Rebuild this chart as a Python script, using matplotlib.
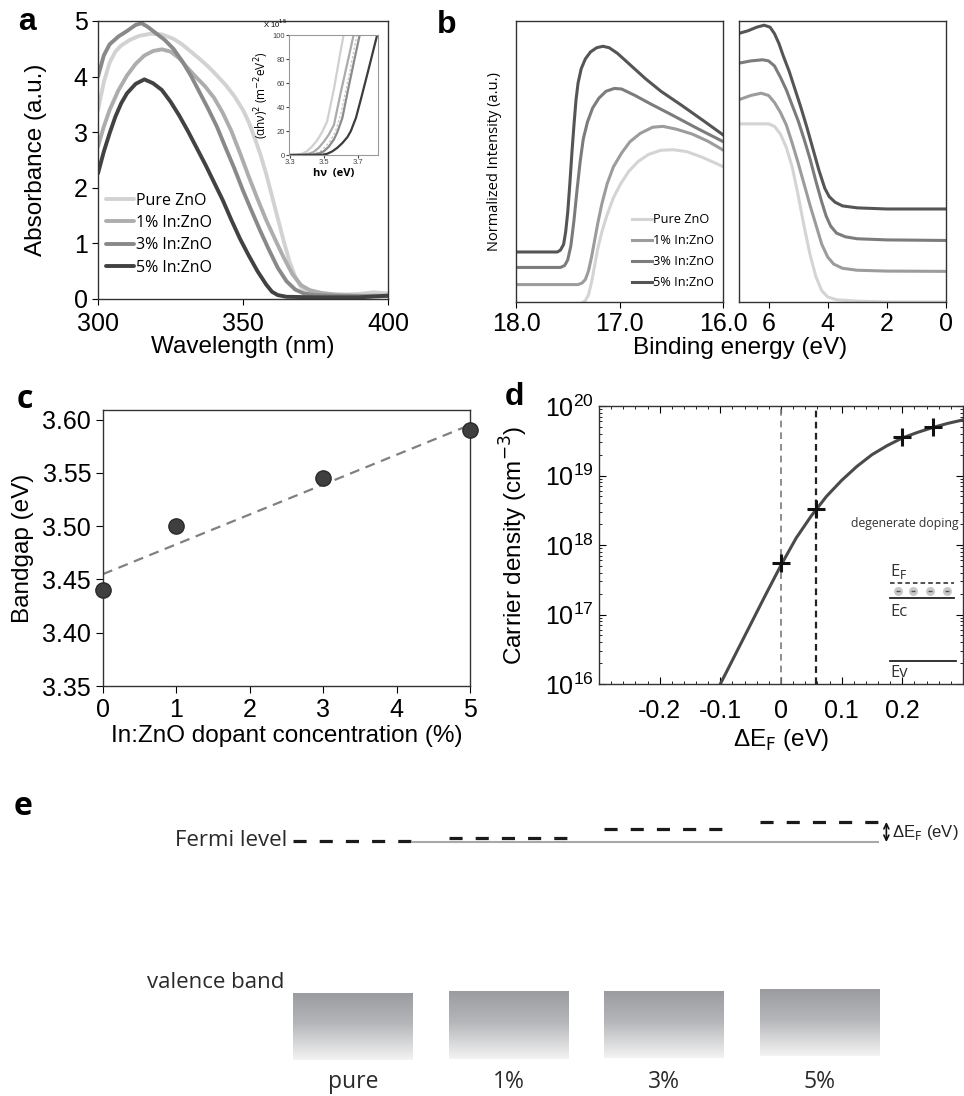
import numpy as np
import matplotlib.pyplot as plt
from matplotlib.colors import LinearSegmentedColormap
from matplotlib.ticker import AutoMinorLocator

plt.rcParams['font.family'] = ['Liberation Sans', 'DejaVu Sans']
plt.rcParams['axes.unicode_minus'] = False
plt.rcParams['axes.linewidth'] = 1.0
plt.rcParams['axes.edgecolor'] = '#333333'

SEG = ['Open Sans', 'DejaVu Sans']

# ---------------- data ----------------
samples = ['Pure ZnO', '1% In:ZnO', '3% In:ZnO', '5% In:ZnO']
colors_a = ['#d2d2d2', '#adadad', '#898989', '#424242']
colors_b = ['#d4d4d4', '#9c9c9c', '#7c7c7c', '#555555']

# (a) absorbance spectra
wl_pure = [300, 302, 304, 306, 308, 311, 314, 318, 322, 326, 329, 332, 335, 338, 341, 344, 347, 350,
           352, 354, 356, 358, 360, 362, 364, 366, 368, 370, 372, 375, 380, 385, 390, 395, 400]
ab_pure = [3.4, 3.9, 4.25, 4.45, 4.56, 4.66, 4.73, 4.77, 4.76, 4.68, 4.58, 4.45, 4.32, 4.18, 4.02, 3.85,
           3.65, 3.40, 3.18, 2.9, 2.6, 2.25, 1.85, 1.45, 1.05, 0.68, 0.4, 0.22, 0.14, 0.1, 0.08, 0.08,
           0.09, 0.12, 0.1]
wl_1 = [300, 302, 304, 307, 310, 313, 316, 319, 322, 325, 328, 331, 334, 337, 340, 343, 346, 349, 352,
        355, 358, 361, 364, 367, 370, 373, 377, 382, 390, 400]
ab_1 = [2.74, 3.1, 3.4, 3.75, 4.02, 4.23, 4.38, 4.46, 4.49, 4.45, 4.33, 4.15, 3.98, 3.82, 3.62, 3.35,
        3.02, 2.62, 2.2, 1.8, 1.42, 1.08, 0.75, 0.45, 0.25, 0.16, 0.11, 0.08, 0.06, 0.06]
wl_3 = [300, 302, 304, 307, 310, 313, 315, 317, 320, 323, 326, 329, 332, 335, 338, 341, 344, 347, 350,
        353, 356, 359, 362, 365, 368, 371, 375, 385, 400]
ab_3 = [4.0, 4.38, 4.58, 4.72, 4.82, 4.93, 4.96, 4.9, 4.78, 4.66, 4.5, 4.28, 4.02, 3.72, 3.42, 3.1,
        2.72, 2.35, 1.95, 1.58, 1.22, 0.88, 0.56, 0.32, 0.17, 0.1, 0.07, 0.05, 0.05]
wl_5 = [300, 302, 304, 306, 308, 310, 313, 316, 319, 322, 325, 328, 331, 334, 337, 340, 343, 346, 349,
        352, 355, 358, 360, 362, 365, 375, 390, 400]
ab_5 = [2.26, 2.65, 2.98, 3.28, 3.52, 3.7, 3.87, 3.95, 3.88, 3.76, 3.55, 3.3, 3.02, 2.72, 2.42, 2.1,
        1.78, 1.42, 1.08, 0.78, 0.5, 0.26, 0.13, 0.07, 0.04, 0.03, 0.03, 0.06]

# (a) inset: Tauc plot
hv_pure = [3.30, 3.34, 3.37, 3.40, 3.43, 3.46, 3.49, 3.52, 3.56, 3.60, 3.617]
tauc_pure = [0, 0.2, 1, 3, 7, 12, 19, 28, 55, 87, 100]
hv_1 = [3.30, 3.38, 3.41, 3.44, 3.47, 3.50, 3.53, 3.56, 3.60, 3.64, 3.676]
tauc_1 = [0, 0.2, 1, 2.5, 6, 11, 17, 25, 52, 77, 100]
hv_fit = [3.30, 3.42, 3.45, 3.48, 3.51, 3.54, 3.57, 3.60, 3.64, 3.68, 3.696]
tauc_fit = [0, 0.2, 1.5, 3, 7, 12, 20, 34, 60, 89, 100]
hv_3 = [3.30, 3.44, 3.47, 3.50, 3.53, 3.56, 3.58, 3.61, 3.64, 3.68, 3.712]
tauc_3 = [0, 0.2, 1.2, 3, 7, 13, 19, 31, 52, 79, 100]
hv_5 = [3.30, 3.49, 3.52, 3.55, 3.58, 3.61, 3.64, 3.66, 3.69, 3.72, 3.76, 3.815]
tauc_5 = [0, 0.2, 1, 3, 6, 10, 15, 20, 31, 47, 69, 100]

# (b) UPS, secondary electron cutoff (left)
be_hi_pure = [18.0, 17.37, 17.33, 17.30, 17.27, 17.24, 17.21, 17.17, 17.12, 17.06, 16.99, 16.91, 16.82,
              16.72, 16.6, 16.48, 16.35, 16.2, 16.0]
in_hi_pure = [-0.01, -0.005, 0.005, 0.025, 0.07, 0.13, 0.19, 0.25, 0.31, 0.37, 0.42, 0.465, 0.5,
              0.525, 0.54, 0.542, 0.535, 0.515, 0.482]
be_hi_1 = [18.0, 17.40, 17.36, 17.33, 17.30, 17.27, 17.24, 17.21, 17.17, 17.12, 17.06, 16.98, 16.90,
           16.80, 16.68, 16.58, 16.45, 16.3, 16.15, 16.0]
in_hi_1 = [0.062, 0.062, 0.068, 0.08, 0.11, 0.16, 0.22, 0.28, 0.35, 0.42, 0.48, 0.53, 0.57, 0.6,
           0.622, 0.625, 0.615, 0.598, 0.573, 0.541]
be_hi_3 = [18.0, 17.57, 17.53, 17.50, 17.47, 17.44, 17.41, 17.38, 17.35, 17.31, 17.26, 17.20, 17.13,
           17.05, 16.98, 16.85, 16.7, 16.5, 16.25, 16.0]
in_hi_3 = [0.123, 0.123, 0.13, 0.15, 0.2, 0.29, 0.4, 0.5, 0.58, 0.64, 0.69, 0.725, 0.75, 0.76, 0.758,
           0.735, 0.705, 0.667, 0.618, 0.571]
be_hi_5 = [18.0, 17.60, 17.57, 17.54, 17.52, 17.50, 17.48, 17.46, 17.44, 17.42, 17.40, 17.37, 17.33,
           17.28, 17.22, 17.16, 17.10, 17.02, 16.9, 16.75, 16.6, 16.4, 16.2, 16.0]
in_hi_5 = [0.178, 0.178, 0.185, 0.205, 0.25, 0.32, 0.42, 0.53, 0.63, 0.72, 0.78, 0.83, 0.865, 0.89,
           0.905, 0.91, 0.905, 0.885, 0.845, 0.795, 0.75, 0.7, 0.648, 0.595]

# (b) UPS, valence band edge (right)
be_lo_pure = [7.0, 6.0, 5.8, 5.6, 5.4, 5.2, 5.0, 4.8, 4.6, 4.4, 4.2, 4.0, 3.7, 3.0, 2.0, 0.0]
in_lo_pure = [0.634, 0.634, 0.625, 0.598, 0.55, 0.48, 0.38, 0.27, 0.17, 0.09, 0.04, 0.018, 0.008,
              0.003, 0.0, 0.0]
be_lo_1 = [7.0, 6.6, 6.25, 6.0, 5.8, 5.6, 5.4, 5.2, 5.0, 4.8, 4.6, 4.4, 4.2, 4.0, 3.8, 3.5, 3.0, 2.0, 0.0]
in_lo_1 = [0.72, 0.735, 0.743, 0.735, 0.71, 0.675, 0.63, 0.565, 0.495, 0.42, 0.345, 0.275, 0.205,
           0.16, 0.135, 0.12, 0.113, 0.11, 0.109]
be_lo_3 = [7.0, 6.6, 6.2, 6.0, 5.8, 5.6, 5.4, 5.2, 5.0, 4.8, 4.6, 4.4, 4.2, 4.05, 3.9, 3.7, 3.4, 3.0,
           2.0, 0.0]
in_lo_3 = [0.85, 0.858, 0.862, 0.858, 0.84, 0.8, 0.755, 0.7, 0.645, 0.58, 0.51, 0.43, 0.355, 0.305,
           0.27, 0.245, 0.232, 0.225, 0.221, 0.219]
be_lo_5 = [7.0, 6.7, 6.4, 6.15, 5.95, 5.8, 5.65, 5.5, 5.3, 5.1, 4.9, 4.7, 4.5, 4.3, 4.1, 3.95, 3.75,
           3.5, 3.0, 2.0, 0.0]
in_lo_5 = [0.956, 0.965, 0.978, 0.985, 0.978, 0.955, 0.92, 0.875, 0.82, 0.755, 0.69, 0.62, 0.545,
           0.47, 0.405, 0.375, 0.355, 0.342, 0.335, 0.331, 0.331]

# (c) bandgap
dopant = [0, 1, 3, 5]
bandgap = [3.44, 3.50, 3.545, 3.59]
fit_x = [0, 5]
fit_y = [3.455, 3.595]

# (d) carrier density
def_x = [-0.1, -0.075, -0.05, -0.025, 0.0, 0.025, 0.05, 0.075, 0.1, 0.125, 0.15,
         0.175, 0.2, 0.225, 0.25, 0.275, 0.3]
def_logn = [16.0, 16.43, 16.86, 17.29, 17.71, 18.10, 18.42, 18.70, 18.93, 19.13, 19.30,
            19.43, 19.54, 19.62, 19.69, 19.75, 19.80]
cross_x = [0.0, 0.058, 0.2, 0.25]
cross_logn = [17.74, 18.52, 19.55, 19.70]

# (e) band diagram (schematic energy units)
e_labels = ['pure', '1%', '3%', '5%']
e_pos = [0, 1, 2, 3]
fermi = [0.0, 0.03, 0.12, 0.19]
vb_top = [-1.52, -1.51, -1.50, -1.48]
vb_depth = 0.67
half_w = 0.385

# ---------------- figure ----------------
W, H = 964, 1096
fig = plt.figure(figsize=(W / 100, H / 100), dpi=100)


def box(x0, y0, x1, y1):
    return [x0 / W, 1 - y1 / H, (x1 - x0) / W, (y1 - y0) / H]


TICK = 18
LAB = 17.5

# ---- (a)
ax = fig.add_axes(box(98, 21, 388, 299))
for wl, ab, c, lab in zip([wl_pure, wl_1, wl_3, wl_5], [ab_pure, ab_1, ab_3, ab_5], colors_a, samples):
    ax.plot(wl, ab, color=c, lw=2.8, label=lab, solid_capstyle='round', solid_joinstyle='round')
ax.set_xlim(300, 400)
ax.set_ylim(0, 5)
ax.set_xticks([300, 350, 400])
ax.set_yticks([0, 1, 2, 3, 4, 5])
ax.tick_params(direction='out', length=4, labelsize=TICK)
ax.tick_params(axis='x', pad=5.5)
ax.set_xlabel('Wavelength (nm)', fontsize=LAB, labelpad=0)
ax.set_ylabel('Absorbance (a.u.)', fontsize=LAB, labelpad=19)
ax.legend(loc='upper left', bbox_to_anchor=(0.028, 0.383), frameon=False, borderpad=0,
          borderaxespad=0, handlelength=1.75, handletextpad=0.1, labelspacing=0.4,
          prop={'family': SEG, 'size': 11.5})

ins = fig.add_axes(box(289, 35, 378, 155))
ins.plot(hv_pure, tauc_pure, color='#d0d0d0', lw=1.6)
ins.plot(hv_1, tauc_1, color='#ababab', lw=1.6)
ins.plot(hv_fit, tauc_fit, color='#c4c4c4', lw=0.9, ls=(0, (2, 1.5)))
ins.plot(hv_3, tauc_3, color='#8a8a8a', lw=1.6)
ins.plot(hv_5, tauc_5, color='#3c3c3c', lw=1.6)
ins.set_xlim(3.295, 3.82)
ins.set_ylim(0, 100)
ins.set_xticks([3.3, 3.5, 3.7])
ins.set_xticklabels(['3.3', '3.5', '3.7'])
ins.set_yticks([0, 20, 40, 60, 80, 100])
ins.tick_params(direction='out', length=2, labelsize=5.5, pad=1, colors='#444444')
for s in ins.spines.values():
    s.set_color('#999999')
    s.set_linewidth(0.8)
ins.set_xlabel('hν  (eV)', fontsize=8, fontweight='bold', labelpad=1, family=SEG)
ins.set_ylabel('(αhν)$^2$ (m$^{-2}$eV$^2$)', fontsize=8.5, labelpad=1, family=SEG)
ins.text(-0.02, 1.09, 'X 10$^{15}$', transform=ins.transAxes, ha='right', va='center', fontsize=5.5)

# ---- (b)
axl = fig.add_axes(box(516, 21, 723, 302))
axr = fig.add_axes(box(739, 21, 946, 302))
for x, y, c, lab in zip([be_hi_pure, be_hi_1, be_hi_3, be_hi_5], [in_hi_pure, in_hi_1, in_hi_3, in_hi_5],
                        colors_b, samples):
    axl.plot(x, y, color=c, lw=2.2, label=lab, solid_joinstyle='round')
for x, y, c in zip([be_lo_pure, be_lo_1, be_lo_3, be_lo_5], [in_lo_pure, in_lo_1, in_lo_3, in_lo_5], colors_b):
    axr.plot(x, y, color=c, lw=2.2, solid_joinstyle='round')
axl.set_xlim(18, 16)
axr.set_xlim(7, 0)
for a in (axl, axr):
    a.set_ylim(0, 1)
    a.set_yticks([])
    a.tick_params(direction='out', length=4, labelsize=TICK)
axl.set_xticks([18, 17, 16])
axl.set_xticklabels(['18.0', '17.0', '16.0'])
axr.set_xticks([6, 4, 2, 0])
axl.set_ylabel('Normalized Intensity (a.u.)', fontsize=10.5, family=SEG, labelpad=10)
axl.legend(loc='upper left', bbox_to_anchor=(0.56, 0.315), frameon=False, borderpad=0,
           borderaxespad=0, handlelength=1.55, handletextpad=0.1, labelspacing=0.62,
           prop={'family': SEG, 'size': 9.2})
fig.text(740 / W, 1 - 348 / H, 'Binding energy (eV)', ha='center', va='center', fontsize=LAB)

# ---- (c)
axc = fig.add_axes(box(103, 410, 470, 686))
axc.plot(fit_x, fit_y, color='#808080', lw=1.6, ls=(0, (4.5, 3)))
axc.plot(dopant, bandgap, 'o', ms=11, color='#3f3f3f', mec='#2a2a2a', clip_on=False, zorder=5)
axc.set_xlim(0, 5)
axc.set_ylim(3.35, 3.609)
axc.set_yticks([3.35, 3.40, 3.45, 3.50, 3.55, 3.60])
axc.set_yticklabels(['3.35', '3.40', '3.45', '3.50', '3.55', '3.60'])
axc.set_xticks([0, 1, 2, 3, 4, 5])
axc.tick_params(direction='out', length=5, labelsize=TICK)
axc.set_xlabel('In:ZnO dopant concentration (%)', fontsize=LAB, labelpad=2)
axc.set_ylabel('Bandgap (eV)', fontsize=LAB, labelpad=6)

# ---- (d)
axd = fig.add_axes(box(599, 406, 963, 684))
axd.plot(def_x, 10 ** np.array(def_logn), color='#4a4a4a', lw=2.2, solid_joinstyle='round')
axd.axvline(0.0, color='#7a7a7a', lw=1.2, ls=(0, (4, 3)))
axd.axvline(0.058, color='#222222', lw=1.6, ls=(0, (3, 2)))
axd.plot(cross_x, 10 ** np.array(cross_logn), '+', ms=13, mew=2.2, color='#111111', zorder=5)
axd.set_yscale('log')
axd.set_ylim(1e16, 1e20)
axd.set_xlim(-0.3, 0.3)
axd.set_xticks([-0.2, -0.1, 0, 0.1, 0.2])
axd.set_xticklabels(['-0.2', '-0.1', '0', '0.1', '0.2'])
axd.xaxis.set_minor_locator(AutoMinorLocator(5))
axd.tick_params(which='both', direction='in', top=True, right=True, labelsize=TICK)
axd.tick_params(which='major', length=5)
axd.tick_params(which='minor', length=2.5)
axd.tick_params(axis='x', which='major', pad=11)
axd.set_xlabel('ΔE$_\\mathrm{F}$ (eV)', fontsize=LAB, labelpad=3)
axd.set_ylabel('Carrier density (cm$^{-3}$)', fontsize=LAB, labelpad=11)
tr = axd.transAxes
axd.text(0.989, 0.576, 'degenerate doping', transform=tr, ha='right', va='center', fontsize=8.8,
         family=SEG, color='#333333')
axd.text(0.80, 0.405, 'E$_\\mathrm{F}$', transform=tr, ha='left', va='center', fontsize=12,
         family=SEG, color='#333333')
axd.plot([0.80, 0.975], [0.363, 0.363], transform=tr, color='#222222', lw=1.1, ls=(0, (3, 2)))
axd.plot([0.822, 0.863, 0.909, 0.956], [0.335] * 4, 'o', transform=tr, ms=6.5, color='#c8c8c8',
         mec='none')
axd.plot([0.822, 0.863, 0.909, 0.956], [0.335] * 4, '_', transform=tr, ms=3, color='#555555', mew=1)
axd.plot([0.80, 0.975], [0.309, 0.309], transform=tr, color='#222222', lw=1.3)
axd.text(0.80, 0.258, 'Ec', transform=tr, ha='left', va='center', fontsize=12, family=SEG, color='#333333')
axd.plot([0.80, 0.98], [0.083, 0.083], transform=tr, color='#222222', lw=1.3)
axd.text(0.80, 0.038, 'Ev', transform=tr, ha='left', va='center', fontsize=12, family=SEG, color='#333333')

# ---- (e)
axe = fig.add_axes([0, 0, 1, (H - 780) / H])
axe.axis('off')
cmap = LinearSegmentedColormap.from_list('vb', [(0, '#9b9ca0'), (0.45, '#b5b6b9'), (1, '#f3f3f3')])
grad = np.linspace(0, 1, 128).reshape(-1, 1)
for p, f, t, lab in zip(e_pos, fermi, vb_top, e_labels):
    axe.plot([p - half_w, p + half_w], [f, f], color='#1a1a1a', lw=2.3, ls=(0, (4.1, 4.1)))
    axe.imshow(grad, cmap=cmap, aspect='auto', extent=[p - half_w, p + half_w, t - vb_depth, t],
               interpolation='bilinear')
    axe.text(p, -2.41, lab, ha='center', va='center', fontsize=16.5, family=SEG, color='#2a2a2a')
axe.plot([e_pos[0] + half_w, e_pos[-1] + half_w - 0.01], [fermi[0] - 0.01] * 2, color='#a8a8a8',
         lw=1.5, zorder=1)
axe.annotate('', xy=(3.43, fermi[-1]), xytext=(3.43, fermi[0] - 0.01),
             arrowprops=dict(arrowstyle='<->', color='#111111', lw=1.2, mutation_scale=9,
                             shrinkA=0, shrinkB=0))
axe.text(3.465, 0.09, 'ΔE$_\\mathrm{F}$ (eV)', ha='left', va='center', fontsize=12, color='#222222')
axe.text(-0.42, 0.0, 'Fermi level', ha='right', va='center', fontsize=16, family=SEG, color='#2a2a2a')
axe.text(-0.44, -1.41, 'valence band', ha='right', va='center', fontsize=16, family=SEG, color='#2a2a2a')
axe.set_xlim(-353 / 155.5, (W - 353) / 155.5)
axe.set_ylim(-2.55, 0.61)

# panel letters
for ch, x, y, fam in [('a', 18, 30, None), ('b', 437, 33, None), ('c', 17, 408, SEG),
                      ('d', 505, 405, None), ('e', 14, 815, SEG)]:
    kw = {'family': fam} if fam else {}
    fig.text(x / W, 1 - y / H, ch, ha='left', va='baseline', fontsize=23, fontweight='bold', **kw)

fig.savefig('out.png', dpi=100)
